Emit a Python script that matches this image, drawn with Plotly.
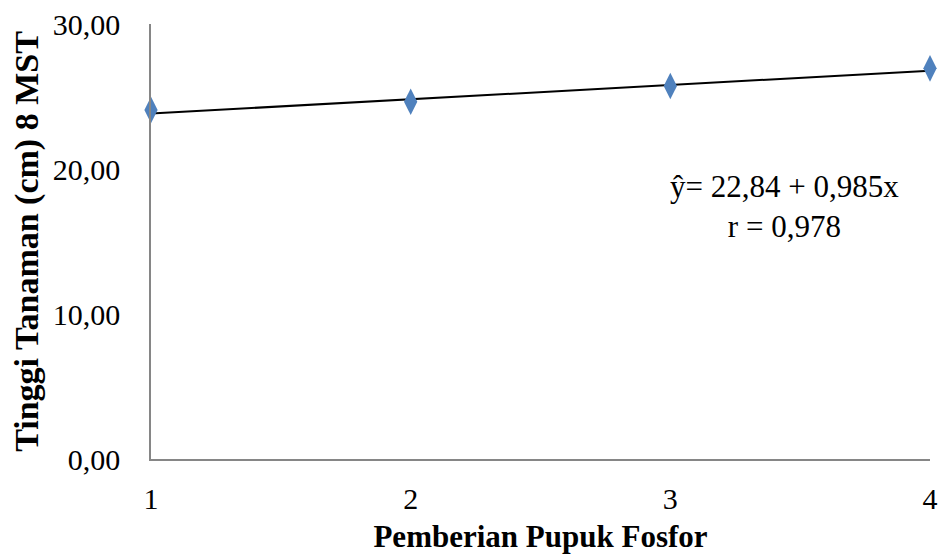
import plotly.graph_objects as go

x_vals = [1, 2, 3, 4]
y_vals = [24.07, 24.64, 25.72, 26.94]
intercept = 22.84
slope = 0.985
y_ticks = [0, 10, 20, 30]
y_tick_labels = ["0,00", "10,00", "20,00", "30,00"]
x_ticks = [1, 2, 3, 4]
equation_text = "ŷ= 22,84 + 0,985x<br>r = 0,978"

trend_y = [intercept + slope * x for x in x_vals]

fig = go.Figure()
fig.add_trace(go.Scatter(x=x_vals, y=trend_y, mode="lines",
                         line=dict(color="black", width=2), hoverinfo="skip",
                         cliponaxis=False))
fig.add_trace(go.Scatter(x=x_vals, y=y_vals, mode="markers",
                         marker=dict(symbol="diamond-tall", size=19, color="#4F81BD"),
                         cliponaxis=False))

font_family = "Liberation Serif, Times New Roman, serif"
fig.update_layout(
    width=939, height=558,
    margin=dict(l=151, r=9, t=24, b=99),
    paper_bgcolor="white", plot_bgcolor="white",
    showlegend=False,
    font=dict(family=font_family, size=30, color="black"),
    xaxis=dict(range=[1, 4], tickvals=x_ticks, ticktext=[str(v) for v in x_ticks],
               showgrid=False, zeroline=False, showline=True, linecolor="#868686",
               linewidth=1.5, ticks="", ticklabelstandoff=12,
               ticklabeloverflow="allow", automargin=False,
               title=dict(text="<b>Pemberian Pupuk Fosfor</b>", standoff=12,
                          font=dict(size=31))),
    yaxis=dict(range=[0, 30], tickvals=y_ticks, ticktext=y_tick_labels,
               showgrid=False, zeroline=False, showline=True, linecolor="#868686",
               linewidth=1.5, ticks="", ticklabelstandoff=23,
               ticklabeloverflow="allow", automargin=False,
               title=dict(text="<b>Tinggi Tanaman (cm) 8 MST</b>", standoff=4,
                          font=dict(size=34))),
)
fig.add_annotation(x=3.44, y=17.4, xref="x", yref="y", text=equation_text,
                   showarrow=False, align="center", xanchor="center", yanchor="middle",
                   font=dict(size=31, family=font_family))

fig.write_html("out.html",
               config={"displayModeBar": False},
               post_script="document.body.style.margin='0';"
                           "document.documentElement.style.overflow='hidden';")
